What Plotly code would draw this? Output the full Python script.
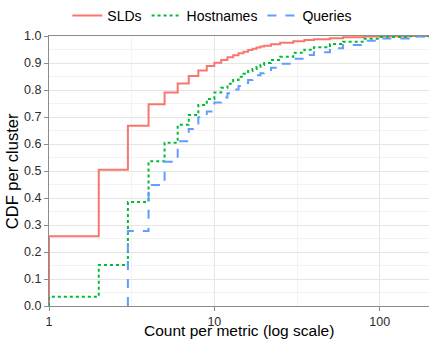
import plotly.graph_objects as go

# Empirical CDF values read at counts (step function, steps at integer counts)
sld_counts = [1, 2, 3, 4, 5, 6, 7, 8, 9, 10, 11, 12, 13, 14, 15, 16, 17, 18, 19, 20,
              22, 25, 30, 35, 40, 50, 60, 80, 100, 150, 200]
sld_cdf = [0.258, 0.505, 0.668, 0.747, 0.791, 0.824, 0.852, 0.872, 0.889, 0.901,
           0.911, 0.921, 0.929, 0.936, 0.942, 0.948, 0.953, 0.957, 0.961, 0.964,
           0.969, 0.975, 0.981, 0.985, 0.988, 0.992, 0.995, 0.998, 0.999, 1.0, 1.0]

host_counts = [1, 2, 3, 4, 5, 6, 7, 8, 9, 10, 11, 12, 13, 14, 15, 16, 17, 18, 19, 20,
               22, 25, 30, 35, 40, 50, 60, 80, 100, 150, 200]
host_cdf = [0.034, 0.152, 0.385, 0.536, 0.605, 0.671, 0.707, 0.744, 0.767, 0.791,
            0.808, 0.823, 0.837, 0.849, 0.860, 0.870, 0.878, 0.886, 0.893, 0.900,
            0.911, 0.923, 0.938, 0.949, 0.958, 0.970, 0.979, 0.990, 0.996, 0.999, 1.0]

query_counts = [3, 4, 5, 6, 7, 8, 9, 10, 11, 12, 13, 14, 15, 16, 17, 18, 19, 20,
                22, 25, 30, 35, 40, 50, 60, 80, 100, 150, 200]
query_cdf = [0.278, 0.448, 0.534, 0.610, 0.656, 0.699, 0.720, 0.754,
             0.772, 0.788, 0.802, 0.815, 0.826, 0.837, 0.846, 0.855, 0.862, 0.870,
             0.882, 0.897, 0.916, 0.930, 0.940, 0.955, 0.967, 0.982, 0.991, 0.998, 1.0]

series = [
    ("SLDs", sld_counts, sld_cdf, "#F8766D", "solid"),
    ("Hostnames", host_counts, host_cdf, "#00BA38", "dot"),
    ("Queries", query_counts, query_cdf, "#619CFF", "dash"),
]

x_title = "Count per metric (log scale)"
y_title = "CDF per cluster"

fig = go.Figure()
for name, xs, ys, color, dash in series:
    fig.add_trace(go.Scatter(
        x=[xs[0]] + list(xs), y=[0.0] + list(ys),
        mode="lines", name=name, line_shape="hv",
        line=dict(color=color, width=2, dash=dash),
    ))

axis_common = dict(
    showline=True, linecolor="#8c8c8c", linewidth=1, mirror=True,
    ticks="outside", ticklen=4, tickcolor="#8c8c8c",
    gridcolor="#e5e5e5", gridwidth=1, zeroline=False,
    tickfont=dict(size=12.5, color="#2b2b2b"),
)

fig.update_xaxes(
    type="log", range=[0, 2.298],
    tickvals=[1, 10, 100], ticktext=["1", "10", "100"],
    minor=dict(tickvals=[3.1623, 31.623], showgrid=True, gridcolor="#f3f3f3", ticks=""),
    **axis_common,
)
fig.update_yaxes(
    range=[0, 1], dtick=0.1, tickformat=".1f",
    minor=dict(dtick=0.05, showgrid=True, gridcolor="#f3f3f3", ticks=""),
    **axis_common,
)

fig.add_annotation(text=x_title, xref="paper", yref="paper", x=0.5, y=-0.09,
                   xanchor="center", yanchor="middle", showarrow=False,
                   font=dict(size=15.5, color="#000000"))
fig.add_annotation(text=y_title, xref="paper", yref="paper", x=-0.097, y=0.5,
                   xanchor="center", yanchor="middle", showarrow=False, textangle=-90,
                   font=dict(size=16.5, color="#000000"))

fig.update_layout(
    width=429, height=339,
    margin=dict(l=49, r=0, t=36, b=33, autoexpand=False),
    plot_bgcolor="white", paper_bgcolor="white",
    font=dict(family="Liberation Sans, Arial, sans-serif", color="#111111"),
    legend=dict(
        orientation="h", xref="container", yref="container",
        x=0.495, xanchor="center", y=1.0, yanchor="top",
        font=dict(size=14, color="#000000"), itemwidth=30, tracegroupgap=0,
        bgcolor="rgba(0,0,0,0)",
    ),
    showlegend=True,
)

fig.write_html("out.html")
